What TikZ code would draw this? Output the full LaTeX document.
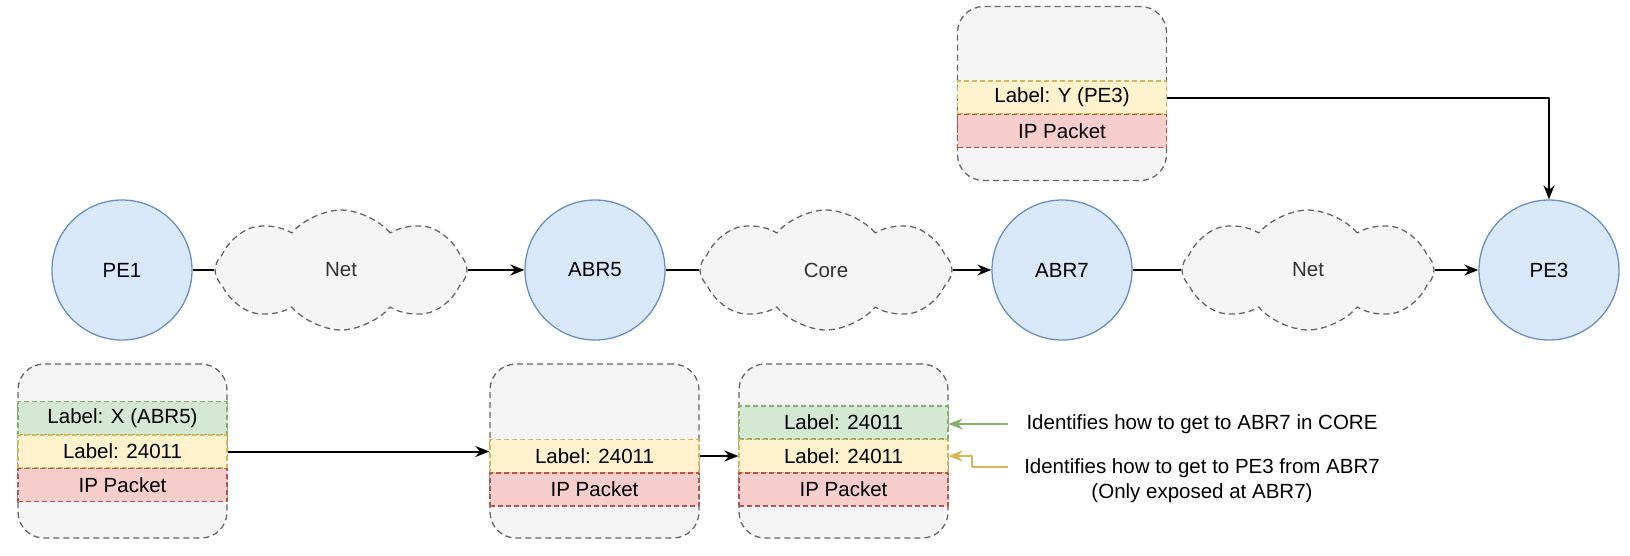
\documentclass[tikz,border=0pt]{standalone}
\usepackage{fontspec}
\setmainfont{Liberation Sans}
\usetikzlibrary{arrows.meta,shapes.symbols,positioning}

\definecolor{routerfill}{HTML}{DAE8FC}
\definecolor{routerline}{HTML}{6C8EBF}
\definecolor{greyfill}{HTML}{F5F5F5}
\definecolor{greyline}{HTML}{666666}
\definecolor{greytext}{HTML}{333333}
\definecolor{greenfill}{HTML}{D5E8D4}
\definecolor{greenline}{HTML}{82B366}
\definecolor{yellowfill}{HTML}{FFF2CC}
\definecolor{yellowline}{HTML}{D6B656}
\definecolor{redfill}{HTML}{F8CECC}
\definecolor{redline}{HTML}{B85450}

\begin{document}
\begin{tikzpicture}[x=1pt,y=-1pt,line join=round,>={Stealth[length=14pt,width=11pt]},
  every node/.style={font=\fontsize{20.5}{25}\selectfont},
  router/.style={circle,draw=routerline,fill=routerfill,line width=1.3pt,minimum size=140pt,inner sep=0pt},
  netcloud/.style={cloud,cloud puffs=8,cloud puff arc=100,cloud ignores aspect,draw=greyline,fill=greyfill,line width=1.3pt,
    dash pattern=on 6pt off 4pt,minimum width=252pt,minimum height=120pt,text=greytext},
  pktbox/.style={draw=greyline,fill=greyfill,rounded corners=26pt,line width=1.3pt,
    dash pattern=on 6pt off 4pt,minimum width=209pt,minimum height=174pt,inner sep=0pt},
  lbl/.style={minimum width=209pt,minimum height=33pt,inner sep=0pt,line width=1.2pt,dash pattern=on 5pt off 3pt},
  lblgreen/.style={lbl,draw=greenline,fill=greenfill},
  lblyellow/.style={lbl,draw=yellowline,fill=yellowfill},
  lblred/.style={lbl,draw=redline,fill=redfill},
  link/.style={line width=2pt}]

\useasboundingbox (0,0) rectangle (1630,555);

% routers and clouds
\node[router] (pe1) at (122,270) {PE1};
\node[netcloud] (net1) at (341,270) {Net};
\node[router] (abr5) at (595,270) {ABR5};
\node[netcloud] (core) at (826,270) {Core};
\node[router] (abr7) at (1062,270) {ABR7};
\node[netcloud] (net2) at (1308,270) {Net};
\node[router] (pe3) at (1549,270) {PE3};

\draw[link] (pe1) -- (net1);
\draw[link,->] (net1) -- (abr5);
\draw[link] (abr5) -- (core);
\draw[link,->] (core) -- (abr7);
\draw[link] (abr7) -- (net2);
\draw[link,->] (net2) -- (pe3);

% packet at PE3
\node[pktbox] (pkttop) at (1062,93.5) {};
\node[lblyellow] (topyel) at (1062,97.5) {Label: Y (PE3)};
\node[lblred] (topred) at (1062,131) {IP Packet};
\draw[link,->] (topyel.east) -| (pe3.north);

% packet at PE1
\node[pktbox] (pkta) at (122.5,451) {};
\node[lblgreen] (agrn) at (122.5,418) {Label: X (ABR5)};
\node[lblyellow] (ayel) at (122.5,451.5) {Label: 24011};
\node[lblred] (ared) at (122.5,485) {IP Packet};

% packet at ABR5
\node[pktbox] (pktb) at (594.5,451) {};
\node[lblyellow] (byel) at (594.5,456) {Label: 24011};
\node[lblred] (bred) at (594.5,489.5) {IP Packet};

% packet at ABR7
\node[pktbox] (pktc) at (843.5,451) {};
\node[lblgreen] (cgrn) at (843.5,422.5) {Label: 24011};
\node[lblyellow] (cyel) at (843.5,456) {Label: 24011};
\node[lblred] (cred) at (843.5,489.5) {IP Packet};

\draw[link,->] (ayel.east) -- (ayel.east -| pktb.west);
\draw[link,->] (byel.east) -- (cyel.west);

% notes
\node (notecore) at (1202,424) {Identifies how to get to ABR7 in CORE};
\node[align=center] (notepe) at (1202,480.5) {Identifies how to get to PE3 from ABR7\\(Only exposed at ABR7)};
\coordinate (coretail) at (1008,424);
\coordinate (petail) at (1008,467);
\draw[line width=1.5pt,greenline,->] (coretail) -- (coretail -| cgrn.east);
\draw[line width=1.5pt,yellowline,->] (petail) -- (972,467) |- (cyel.east);
\end{tikzpicture}
\end{document}
